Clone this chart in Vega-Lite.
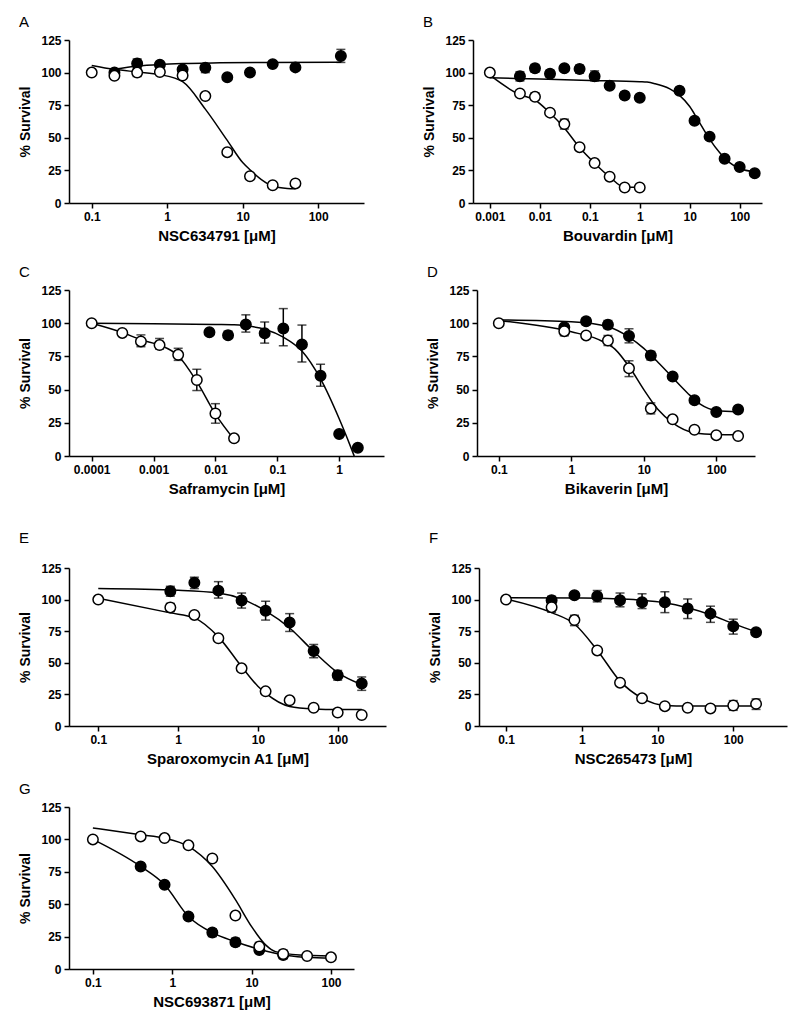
{
"$schema": "https://vega.github.io/schema/vega-lite/v6.json",
"padding": {"left": 18, "top": 15, "right": 5, "bottom": 5},
"background": "white",
"config": {
 "view": {"stroke": null},
 "axis": {"domainColor": "black", "domainWidth": 1.5, "tickColor": "black", "tickWidth": 1.5, "tickSize": 5, "labelFont": "Liberation Sans", "labelFontWeight": "bold", "labelFontSize": 12, "labelColor": "black", "titleFont": "Liberation Sans", "titleFontWeight": "bold", "titleColor": "black", "grid": false, "labelPadding": 3, "labelOverlap": false, "tickCount": 12},
 "axisX": {"titleFontSize": 15, "titlePadding": 6},
 "axisY": {"titleFontSize": 14, "titlePadding": 8},
 "title": {"anchor": "start", "frame": "bounds", "font": "Liberation Sans", "fontSize": 15, "fontWeight": "normal", "color": "black", "offset": 4}
},
"datasets": {
 "pts": [
  {"p":"A","s":"f","x":0.2,"y":100,"lo":98,"hi":103},
  {"p":"A","s":"f","x":0.4,"y":107,"lo":104,"hi":110.5},
  {"p":"A","s":"f","x":0.8,"y":106},
  {"p":"A","s":"f","x":1.6,"y":102.4},
  {"p":"A","s":"f","x":3.2,"y":103.7,"lo":100,"hi":106.5},
  {"p":"A","s":"f","x":6.25,"y":96.5},
  {"p":"A","s":"f","x":12.5,"y":100},
  {"p":"A","s":"f","x":25,"y":106.5},
  {"p":"A","s":"f","x":50,"y":104},
  {"p":"A","s":"f","x":200,"y":112.7,"lo":107.8,"hi":117.8},
  {"p":"A","s":"o","x":0.1,"y":100},
  {"p":"A","s":"o","x":0.2,"y":97.5},
  {"p":"A","s":"o","x":0.4,"y":100,"lo":97,"hi":103},
  {"p":"A","s":"o","x":0.8,"y":100.5},
  {"p":"A","s":"o","x":1.6,"y":97.8},
  {"p":"A","s":"o","x":3.2,"y":82},
  {"p":"A","s":"o","x":6.25,"y":39},
  {"p":"A","s":"o","x":12.5,"y":20.5},
  {"p":"A","s":"o","x":25,"y":13.6},
  {"p":"A","s":"o","x":50,"y":15},

  {"p":"B","s":"f","x":0.004,"y":97.2,"lo":93.6,"hi":100.7},
  {"p":"B","s":"f","x":0.008,"y":103.3,"lo":100.2,"hi":106.3},
  {"p":"B","s":"f","x":0.016,"y":99.2,"lo":96.6,"hi":101.8},
  {"p":"B","s":"f","x":0.031,"y":103.3},
  {"p":"B","s":"f","x":0.0625,"y":102.7,"lo":99.6,"hi":105.7},
  {"p":"B","s":"f","x":0.125,"y":97.2,"lo":93.6,"hi":101.3},
  {"p":"B","s":"f","x":0.25,"y":90},
  {"p":"B","s":"f","x":0.5,"y":82.5,"lo":80,"hi":85},
  {"p":"B","s":"f","x":1,"y":80.7},
  {"p":"B","s":"f","x":6.25,"y":86,"lo":83.5,"hi":88.6},
  {"p":"B","s":"f","x":12.5,"y":63},
  {"p":"B","s":"f","x":25,"y":50.9},
  {"p":"B","s":"f","x":50,"y":34},
  {"p":"B","s":"f","x":100,"y":27.6},
  {"p":"B","s":"f","x":200,"y":22.8},
  {"p":"B","s":"o","x":0.001,"y":100},
  {"p":"B","s":"o","x":0.004,"y":84},
  {"p":"B","s":"o","x":0.008,"y":81.4,"lo":79,"hi":84.5},
  {"p":"B","s":"o","x":0.016,"y":69.3},
  {"p":"B","s":"o","x":0.031,"y":60.5,"lo":56.7,"hi":64.3},
  {"p":"B","s":"o","x":0.0625,"y":42.8},
  {"p":"B","s":"o","x":0.125,"y":30.6},
  {"p":"B","s":"o","x":0.25,"y":20.2},
  {"p":"B","s":"o","x":0.5,"y":11.9},
  {"p":"B","s":"o","x":1,"y":11.9},

  {"p":"C","s":"f","x":0.008,"y":93.2},
  {"p":"C","s":"f","x":0.016,"y":91,"lo":89,"hi":94},
  {"p":"C","s":"f","x":0.031,"y":99,"lo":93.3,"hi":106.3},
  {"p":"C","s":"f","x":0.0625,"y":92.4,"lo":85,"hi":100.9},
  {"p":"C","s":"f","x":0.125,"y":96,"lo":83,"hi":111},
  {"p":"C","s":"f","x":0.25,"y":84,"lo":70.8,"hi":98.6},
  {"p":"C","s":"f","x":0.5,"y":60.4,"lo":52.5,"hi":69},
  {"p":"C","s":"f","x":1,"y":16.5},
  {"p":"C","s":"f","x":2,"y":6.2},
  {"p":"C","s":"o","x":0.0001,"y":100},
  {"p":"C","s":"o","x":0.0003125,"y":92.7},
  {"p":"C","s":"o","x":0.000625,"y":86.3,"lo":82.3,"hi":91.2},
  {"p":"C","s":"o","x":0.00125,"y":83.5,"lo":80.6,"hi":88.5},
  {"p":"C","s":"o","x":0.0025,"y":76.2,"lo":72,"hi":81.1},
  {"p":"C","s":"o","x":0.005,"y":57.2,"lo":49.3,"hi":65.3},
  {"p":"C","s":"o","x":0.01,"y":32,"lo":24.7,"hi":39.4},
  {"p":"C","s":"o","x":0.02,"y":13.3},

  {"p":"D","s":"f","x":0.8,"y":97},
  {"p":"D","s":"f","x":1.6,"y":101.4,"lo":98.9,"hi":104},
  {"p":"D","s":"f","x":3.2,"y":98.9,"lo":96,"hi":102},
  {"p":"D","s":"f","x":6.25,"y":90.3,"lo":85.2,"hi":95.8},
  {"p":"D","s":"f","x":12.5,"y":75.6,"lo":72.3,"hi":78.8},
  {"p":"D","s":"f","x":25,"y":59.8},
  {"p":"D","s":"f","x":50,"y":42},
  {"p":"D","s":"f","x":100,"y":33.2},
  {"p":"D","s":"f","x":200,"y":35},
  {"p":"D","s":"o","x":0.1,"y":100},
  {"p":"D","s":"o","x":0.8,"y":94,"lo":90.5,"hi":97},
  {"p":"D","s":"o","x":1.6,"y":90.8,"lo":88.8,"hi":92.8},
  {"p":"D","s":"o","x":3.2,"y":87,"lo":83.2,"hi":90.8},
  {"p":"D","s":"o","x":6.25,"y":66,"lo":59.8,"hi":71.7},
  {"p":"D","s":"o","x":12.5,"y":35.7,"lo":31.7,"hi":40},
  {"p":"D","s":"o","x":25,"y":27.6},
  {"p":"D","s":"o","x":50,"y":19.8},
  {"p":"D","s":"o","x":100,"y":15.7},
  {"p":"D","s":"o","x":200,"y":15},

  {"p":"E","s":"f","x":0.8,"y":106.6,"lo":102.7,"hi":110.5},
  {"p":"E","s":"f","x":1.6,"y":113.3,"lo":108.7,"hi":117.7},
  {"p":"E","s":"f","x":3.2,"y":107.1,"lo":101.2,"hi":114.2},
  {"p":"E","s":"f","x":6.25,"y":99.2,"lo":93.3,"hi":105.2},
  {"p":"E","s":"f","x":12.5,"y":91.1,"lo":83.8,"hi":98.7},
  {"p":"E","s":"f","x":25,"y":81.9,"lo":74.8,"hi":88.9},
  {"p":"E","s":"f","x":50,"y":59.4,"lo":54,"hi":64.5},
  {"p":"E","s":"f","x":100,"y":40.1,"lo":36.3,"hi":43.9},
  {"p":"E","s":"f","x":200,"y":33.6,"lo":28.2,"hi":38.8},
  {"p":"E","s":"o","x":0.1,"y":100},
  {"p":"E","s":"o","x":0.8,"y":93.8,"lo":90.5,"hi":97},
  {"p":"E","s":"o","x":1.6,"y":87.9},
  {"p":"E","s":"o","x":3.2,"y":69.4},
  {"p":"E","s":"o","x":6.25,"y":45.6},
  {"p":"E","s":"o","x":12.5,"y":27.4},
  {"p":"E","s":"o","x":25,"y":20.3},
  {"p":"E","s":"o","x":50,"y":14.4},
  {"p":"E","s":"o","x":100,"y":10.6},
  {"p":"E","s":"o","x":200,"y":8.7},

  {"p":"F","s":"f","x":0.4,"y":99.5,"lo":97,"hi":102.6},
  {"p":"F","s":"f","x":0.8,"y":103.4},
  {"p":"F","s":"f","x":1.6,"y":102.6,"lo":98.2,"hi":107.2},
  {"p":"F","s":"f","x":3.2,"y":99.5,"lo":94.3,"hi":105.2},
  {"p":"F","s":"f","x":6.25,"y":97.9,"lo":92.9,"hi":104.6},
  {"p":"F","s":"f","x":12.5,"y":97.9,"lo":89.7,"hi":106.2},
  {"p":"F","s":"f","x":25,"y":93,"lo":85,"hi":100.5},
  {"p":"F","s":"f","x":50,"y":88.9,"lo":82,"hi":94.8},
  {"p":"F","s":"f","x":100,"y":78.9,"lo":72.7,"hi":84.5},
  {"p":"F","s":"f","x":200,"y":74.2},
  {"p":"F","s":"o","x":0.1,"y":100},
  {"p":"F","s":"o","x":0.4,"y":94,"lo":90,"hi":97.5},
  {"p":"F","s":"o","x":0.8,"y":83.8,"lo":79.4,"hi":87.6},
  {"p":"F","s":"o","x":1.6,"y":59.8},
  {"p":"F","s":"o","x":3.2,"y":34.3},
  {"p":"F","s":"o","x":6.25,"y":21.9},
  {"p":"F","s":"o","x":12.5,"y":15.7},
  {"p":"F","s":"o","x":25,"y":14.4},
  {"p":"F","s":"o","x":50,"y":13.9},
  {"p":"F","s":"o","x":100,"y":16.2,"lo":12.4,"hi":20.1},
  {"p":"F","s":"o","x":200,"y":17.5,"lo":13.1,"hi":21.4},

  {"p":"G","s":"f","x":0.4,"y":79.1},
  {"p":"G","s":"f","x":0.8,"y":65},
  {"p":"G","s":"f","x":1.6,"y":40.5},
  {"p":"G","s":"f","x":3.2,"y":28.1,"lo":25,"hi":30.9},
  {"p":"G","s":"f","x":6.25,"y":20.6,"lo":17.8,"hi":23.7},
  {"p":"G","s":"f","x":12.5,"y":14.7,"lo":12.1,"hi":17.8},
  {"p":"G","s":"f","x":25,"y":10.8,"lo":8,"hi":13.5},
  {"p":"G","s":"o","x":0.1,"y":100},
  {"p":"G","s":"o","x":0.4,"y":102.3},
  {"p":"G","s":"o","x":0.8,"y":101},
  {"p":"G","s":"o","x":1.6,"y":95.4},
  {"p":"G","s":"o","x":3.2,"y":85.3},
  {"p":"G","s":"o","x":6.25,"y":41.2},
  {"p":"G","s":"o","x":12.5,"y":17.3,"lo":13.5,"hi":20.5},
  {"p":"G","s":"o","x":25,"y":11.6,"lo":8.5,"hi":14.5},
  {"p":"G","s":"o","x":50,"y":10},
  {"p":"G","s":"o","x":100,"y":9}
 ],
 "fit": [
  {"p":"A","s":"f","x":0.2,"y":102.5},{"p":"A","s":"f","x":0.4,"y":105},{"p":"A","s":"f","x":0.8,"y":106.3},{"p":"A","s":"f","x":1.6,"y":107},{"p":"A","s":"f","x":5,"y":107.5},{"p":"A","s":"f","x":20,"y":107.8},{"p":"A","s":"f","x":200,"y":108},
  {"p":"A","s":"o","x":0.1,"y":105.5},{"p":"A","s":"o","x":0.2,"y":102.5},{"p":"A","s":"o","x":0.4,"y":100.5},{"p":"A","s":"o","x":0.8,"y":98.5},{"p":"A","s":"o","x":1.6,"y":93},{"p":"A","s":"o","x":3.2,"y":72},{"p":"A","s":"o","x":6.25,"y":48},{"p":"A","s":"o","x":10,"y":31},{"p":"A","s":"o","x":12.5,"y":25.5},{"p":"A","s":"o","x":17.7,"y":18},{"p":"A","s":"o","x":25,"y":13},{"p":"A","s":"o","x":39,"y":11.2},{"p":"A","s":"o","x":50,"y":11},

  {"p":"B","s":"f","x":0.001,"y":96},{"p":"B","s":"f","x":0.01,"y":95},{"p":"B","s":"f","x":0.1,"y":94},{"p":"B","s":"f","x":1,"y":93},{"p":"B","s":"f","x":1.4,"y":92.7},{"p":"B","s":"f","x":2,"y":91.5},{"p":"B","s":"f","x":4,"y":87.5},{"p":"B","s":"f","x":6.25,"y":82.5},{"p":"B","s":"f","x":10,"y":74},{"p":"B","s":"f","x":15,"y":63},{"p":"B","s":"f","x":25,"y":49},{"p":"B","s":"f","x":40,"y":38.5},{"p":"B","s":"f","x":60,"y":31.5},{"p":"B","s":"f","x":100,"y":26.5},{"p":"B","s":"f","x":200,"y":24},
  {"p":"B","s":"o","x":0.001,"y":98},{"p":"B","s":"o","x":0.004,"y":83},{"p":"B","s":"o","x":0.008,"y":79},{"p":"B","s":"o","x":0.016,"y":69},{"p":"B","s":"o","x":0.031,"y":57.5},{"p":"B","s":"o","x":0.0625,"y":42.5},{"p":"B","s":"o","x":0.125,"y":30.5},{"p":"B","s":"o","x":0.25,"y":20},{"p":"B","s":"o","x":0.5,"y":12},{"p":"B","s":"o","x":1,"y":12},

  {"p":"C","s":"f","x":0.0001,"y":100},{"p":"C","s":"f","x":0.001,"y":99.6},{"p":"C","s":"f","x":0.01,"y":99},{"p":"C","s":"f","x":0.02,"y":98.8},{"p":"C","s":"f","x":0.031,"y":98},{"p":"C","s":"f","x":0.0625,"y":95.5},{"p":"C","s":"f","x":0.125,"y":89.5},{"p":"C","s":"f","x":0.25,"y":79},{"p":"C","s":"f","x":0.5,"y":58},{"p":"C","s":"f","x":1,"y":28},{"p":"C","s":"f","x":1.5,"y":8},{"p":"C","s":"f","x":1.75,"y":0},
  {"p":"C","s":"o","x":0.0001,"y":100},{"p":"C","s":"o","x":0.0003125,"y":93},{"p":"C","s":"o","x":0.000625,"y":87.5},{"p":"C","s":"o","x":0.00125,"y":83.5},{"p":"C","s":"o","x":0.0025,"y":75.5},{"p":"C","s":"o","x":0.005,"y":56},{"p":"C","s":"o","x":0.01,"y":31.5},{"p":"C","s":"o","x":0.02,"y":12.5},

  {"p":"D","s":"f","x":0.1,"y":102.5},{"p":"D","s":"f","x":1,"y":101},{"p":"D","s":"f","x":3.2,"y":97.3},{"p":"D","s":"f","x":6.25,"y":89.5},{"p":"D","s":"f","x":10,"y":81},{"p":"D","s":"f","x":15,"y":71.7},{"p":"D","s":"f","x":25,"y":59},{"p":"D","s":"f","x":40,"y":47.5},{"p":"D","s":"f","x":60,"y":39},{"p":"D","s":"f","x":100,"y":34.2},{"p":"D","s":"f","x":200,"y":33.2},
  {"p":"D","s":"o","x":0.1,"y":102},{"p":"D","s":"o","x":1,"y":93.5},{"p":"D","s":"o","x":2.3,"y":88},{"p":"D","s":"o","x":4,"y":80.5},{"p":"D","s":"o","x":6.6,"y":65.5},{"p":"D","s":"o","x":10,"y":50},{"p":"D","s":"o","x":15.7,"y":35},{"p":"D","s":"o","x":25,"y":25},{"p":"D","s":"o","x":50,"y":17.5},{"p":"D","s":"o","x":100,"y":16.2},{"p":"D","s":"o","x":200,"y":16},

  {"p":"E","s":"f","x":0.1,"y":108.7},{"p":"E","s":"f","x":1,"y":107.4},{"p":"E","s":"f","x":3.2,"y":105.2},{"p":"E","s":"f","x":6.25,"y":100.6},{"p":"E","s":"f","x":12.5,"y":91},{"p":"E","s":"f","x":25,"y":77.5},{"p":"E","s":"f","x":50,"y":59},{"p":"E","s":"f","x":100,"y":42.3},{"p":"E","s":"f","x":200,"y":32.8},
  {"p":"E","s":"o","x":0.1,"y":101},{"p":"E","s":"o","x":0.8,"y":89.5},{"p":"E","s":"o","x":1.6,"y":85.5},{"p":"E","s":"o","x":3.2,"y":70.5},{"p":"E","s":"o","x":6.25,"y":47},{"p":"E","s":"o","x":10,"y":31.5},{"p":"E","s":"o","x":12.5,"y":26},{"p":"E","s":"o","x":25,"y":15.5},{"p":"E","s":"o","x":50,"y":13.5},{"p":"E","s":"o","x":100,"y":13},{"p":"E","s":"o","x":200,"y":13},

  {"p":"F","s":"f","x":0.1,"y":101.5},{"p":"F","s":"f","x":1,"y":101.3},{"p":"F","s":"f","x":3.2,"y":100.5},{"p":"F","s":"f","x":6.25,"y":99.5},{"p":"F","s":"f","x":12.5,"y":97.5},{"p":"F","s":"f","x":25,"y":93.5},{"p":"F","s":"f","x":50,"y":88},{"p":"F","s":"f","x":100,"y":81},{"p":"F","s":"f","x":200,"y":74.5},
  {"p":"F","s":"o","x":0.1,"y":100.5},{"p":"F","s":"o","x":0.4,"y":89.7},{"p":"F","s":"o","x":0.8,"y":80.7},{"p":"F","s":"o","x":1.6,"y":60},{"p":"F","s":"o","x":3.2,"y":35.5},{"p":"F","s":"o","x":6.25,"y":22},{"p":"F","s":"o","x":12.5,"y":16.2},{"p":"F","s":"o","x":25,"y":15.8},{"p":"F","s":"o","x":200,"y":15.8},

  {"p":"G","s":"f","x":0.1,"y":100},{"p":"G","s":"f","x":0.4,"y":79.1},{"p":"G","s":"f","x":0.8,"y":65},{"p":"G","s":"f","x":1.6,"y":40.5},{"p":"G","s":"f","x":3.2,"y":28},{"p":"G","s":"f","x":6.25,"y":21},{"p":"G","s":"f","x":12.5,"y":15.2},{"p":"G","s":"f","x":25,"y":10.8},{"p":"G","s":"f","x":50,"y":9},{"p":"G","s":"f","x":100,"y":8.2},
  {"p":"G","s":"o","x":0.1,"y":108.8},{"p":"G","s":"o","x":0.4,"y":103.6},{"p":"G","s":"o","x":0.8,"y":101},{"p":"G","s":"o","x":1.6,"y":94.6},{"p":"G","s":"o","x":3.2,"y":79},{"p":"G","s":"o","x":6.25,"y":53.5},{"p":"G","s":"o","x":10,"y":32.7},{"p":"G","s":"o","x":15,"y":18.6},{"p":"G","s":"o","x":20,"y":13.4},{"p":"G","s":"o","x":40,"y":10.8},{"p":"G","s":"o","x":100,"y":10}
 ]
},
"vconcat": [
 {"vconcat": [
  {"hconcat": [
   {"title": {"text": "A"}, "width": 295, "height": 163,
    "encoding": {"x": {"field": "x", "type": "quantitative", "scale": {"type": "log", "domain": [0.05, 405], "nice": false}, "axis": {"values": [0.1, 1, 10, 100], "format": "~g", "title": "NSC634791 [μM]"}}},
    "layer": [
     {"data": {"name": "fit"}, "transform": [{"filter": "datum.p=='A'"}], "mark": {"type": "line", "color": "black", "strokeWidth": 1.5, "interpolate": "monotone"}, "encoding": {"y": {"field": "y", "type": "quantitative", "scale": {"domain": [0, 125], "nice": false}, "axis": {"values": [0, 25, 50, 75, 100, 125], "tickCount": 12}, "title": "% Survival"}, "detail": {"field": "s"}}},
     {"data": {"name": "pts"}, "transform": [{"filter": "datum.p=='A' && isValid(datum.lo)"}], "mark": {"type": "rule", "color": "black", "strokeWidth": 1.5}, "encoding": {"y": {"field": "lo", "type": "quantitative", "title": "% Survival"}, "y2": {"field": "hi"}}},
     {"data": {"name": "pts"}, "transform": [{"filter": "datum.p=='A' && isValid(datum.lo)"}], "mark": {"type": "tick", "orient": "horizontal", "color": "black", "thickness": 1.5, "size": 9}, "encoding": {"y": {"field": "lo", "type": "quantitative", "title": "% Survival"}}},
     {"data": {"name": "pts"}, "transform": [{"filter": "datum.p=='A' && isValid(datum.lo)"}], "mark": {"type": "tick", "orient": "horizontal", "color": "black", "thickness": 1.5, "size": 9}, "encoding": {"y": {"field": "hi", "type": "quantitative", "title": "% Survival"}}},
     {"data": {"name": "pts"}, "transform": [{"filter": "datum.p=='A'"}], "mark": {"type": "circle", "size": 110, "stroke": "black", "strokeWidth": 1.5, "opacity": 1}, "encoding": {"y": {"field": "y", "type": "quantitative", "title": "% Survival"}, "fill": {"field": "s", "type": "nominal", "scale": {"domain": ["f", "o"], "range": ["black", "white"]}, "legend": null}}}
    ]},
   {"title": {"text": "B"}, "width": 289, "height": 163,
    "encoding": {"x": {"field": "x", "type": "quantitative", "scale": {"type": "log", "domain": [0.00046, 280], "nice": false}, "axis": {"values": [0.001, 0.01, 0.1, 1, 10, 100], "format": "~g", "title": "Bouvardin [μM]"}}},
    "layer": [
     {"data": {"name": "fit"}, "transform": [{"filter": "datum.p=='B'"}], "mark": {"type": "line", "color": "black", "strokeWidth": 1.5, "interpolate": "monotone"}, "encoding": {"y": {"field": "y", "type": "quantitative", "scale": {"domain": [0, 125], "nice": false}, "axis": {"values": [0, 25, 50, 75, 100, 125], "tickCount": 12}, "title": "% Survival"}, "detail": {"field": "s"}}},
     {"data": {"name": "pts"}, "transform": [{"filter": "datum.p=='B' && isValid(datum.lo)"}], "mark": {"type": "rule", "color": "black", "strokeWidth": 1.5}, "encoding": {"y": {"field": "lo", "type": "quantitative", "title": "% Survival"}, "y2": {"field": "hi"}}},
     {"data": {"name": "pts"}, "transform": [{"filter": "datum.p=='B' && isValid(datum.lo)"}], "mark": {"type": "tick", "orient": "horizontal", "color": "black", "thickness": 1.5, "size": 9}, "encoding": {"y": {"field": "lo", "type": "quantitative", "title": "% Survival"}}},
     {"data": {"name": "pts"}, "transform": [{"filter": "datum.p=='B' && isValid(datum.lo)"}], "mark": {"type": "tick", "orient": "horizontal", "color": "black", "thickness": 1.5, "size": 9}, "encoding": {"y": {"field": "hi", "type": "quantitative", "title": "% Survival"}}},
     {"data": {"name": "pts"}, "transform": [{"filter": "datum.p=='B'"}], "mark": {"type": "circle", "size": 110, "stroke": "black", "strokeWidth": 1.5, "opacity": 1}, "encoding": {"y": {"field": "y", "type": "quantitative", "title": "% Survival"}, "fill": {"field": "s", "type": "nominal", "scale": {"domain": ["f", "o"], "range": ["black", "white"]}, "legend": null}}}
    ]}
  ], "spacing": 58},
  {"hconcat": [
   {"title": {"text": "C"}, "width": 315, "height": 166,
    "encoding": {"x": {"field": "x", "type": "quantitative", "scale": {"type": "log", "domain": [0.000043, 5.3], "nice": false}, "axis": {"values": [0.0001, 0.001, 0.01, 0.1, 1], "format": "~g", "title": "Saframycin [μM]"}}},
    "layer": [
     {"data": {"name": "fit"}, "transform": [{"filter": "datum.p=='C'"}], "mark": {"type": "line", "color": "black", "strokeWidth": 1.5, "interpolate": "monotone"}, "encoding": {"y": {"field": "y", "type": "quantitative", "scale": {"domain": [0, 125], "nice": false}, "axis": {"values": [0, 25, 50, 75, 100, 125], "tickCount": 12}, "title": "% Survival"}, "detail": {"field": "s"}}},
     {"data": {"name": "pts"}, "transform": [{"filter": "datum.p=='C' && isValid(datum.lo)"}], "mark": {"type": "rule", "color": "black", "strokeWidth": 1.5}, "encoding": {"y": {"field": "lo", "type": "quantitative", "title": "% Survival"}, "y2": {"field": "hi"}}},
     {"data": {"name": "pts"}, "transform": [{"filter": "datum.p=='C' && isValid(datum.lo)"}], "mark": {"type": "tick", "orient": "horizontal", "color": "black", "thickness": 1.5, "size": 9}, "encoding": {"y": {"field": "lo", "type": "quantitative", "title": "% Survival"}}},
     {"data": {"name": "pts"}, "transform": [{"filter": "datum.p=='C' && isValid(datum.lo)"}], "mark": {"type": "tick", "orient": "horizontal", "color": "black", "thickness": 1.5, "size": 9}, "encoding": {"y": {"field": "hi", "type": "quantitative", "title": "% Survival"}}},
     {"data": {"name": "pts"}, "transform": [{"filter": "datum.p=='C'"}], "mark": {"type": "circle", "size": 110, "stroke": "black", "strokeWidth": 1.5, "opacity": 1}, "encoding": {"y": {"field": "y", "type": "quantitative", "title": "% Survival"}, "fill": {"field": "s", "type": "nominal", "scale": {"domain": ["f", "o"], "range": ["black", "white"]}, "legend": null}}}
    ]},
   {"title": {"text": "D"}, "width": 278, "height": 166,
    "encoding": {"x": {"field": "x", "type": "quantitative", "scale": {"type": "log", "domain": [0.05, 342], "nice": false}, "axis": {"values": [0.1, 1, 10, 100], "format": "~g", "title": "Bikaverin [μM]"}}},
    "layer": [
     {"data": {"name": "fit"}, "transform": [{"filter": "datum.p=='D'"}], "mark": {"type": "line", "color": "black", "strokeWidth": 1.5, "interpolate": "monotone"}, "encoding": {"y": {"field": "y", "type": "quantitative", "scale": {"domain": [0, 125], "nice": false}, "axis": {"values": [0, 25, 50, 75, 100, 125], "tickCount": 12}, "title": "% Survival"}, "detail": {"field": "s"}}},
     {"data": {"name": "pts"}, "transform": [{"filter": "datum.p=='D' && isValid(datum.lo)"}], "mark": {"type": "rule", "color": "black", "strokeWidth": 1.5}, "encoding": {"y": {"field": "lo", "type": "quantitative", "title": "% Survival"}, "y2": {"field": "hi"}}},
     {"data": {"name": "pts"}, "transform": [{"filter": "datum.p=='D' && isValid(datum.lo)"}], "mark": {"type": "tick", "orient": "horizontal", "color": "black", "thickness": 1.5, "size": 9}, "encoding": {"y": {"field": "lo", "type": "quantitative", "title": "% Survival"}}},
     {"data": {"name": "pts"}, "transform": [{"filter": "datum.p=='D' && isValid(datum.lo)"}], "mark": {"type": "tick", "orient": "horizontal", "color": "black", "thickness": 1.5, "size": 9}, "encoding": {"y": {"field": "hi", "type": "quantitative", "title": "% Survival"}}},
     {"data": {"name": "pts"}, "transform": [{"filter": "datum.p=='D'"}], "mark": {"type": "circle", "size": 110, "stroke": "black", "strokeWidth": 1.5, "opacity": 1}, "encoding": {"y": {"field": "y", "type": "quantitative", "title": "% Survival"}, "fill": {"field": "s", "type": "nominal", "scale": {"domain": ["f", "o"], "range": ["black", "white"]}, "legend": null}}}
    ]}
  ], "spacing": 42}
 ], "spacing": 22},
 {"vconcat": [
  {"hconcat": [
   {"title": {"text": "E", "offset": 16}, "width": 317, "height": 158,
    "encoding": {"x": {"field": "x", "type": "quantitative", "scale": {"type": "log", "domain": [0.043, 403], "nice": false}, "axis": {"values": [0.1, 1, 10, 100], "format": "~g", "title": "Sparoxomycin A1 [μM]"}}},
    "layer": [
     {"data": {"name": "fit"}, "transform": [{"filter": "datum.p=='E'"}], "mark": {"type": "line", "color": "black", "strokeWidth": 1.5, "interpolate": "monotone"}, "encoding": {"y": {"field": "y", "type": "quantitative", "scale": {"domain": [0, 125], "nice": false}, "axis": {"values": [0, 25, 50, 75, 100, 125], "tickCount": 12}, "title": "% Survival"}, "detail": {"field": "s"}}},
     {"data": {"name": "pts"}, "transform": [{"filter": "datum.p=='E' && isValid(datum.lo)"}], "mark": {"type": "rule", "color": "black", "strokeWidth": 1.5}, "encoding": {"y": {"field": "lo", "type": "quantitative", "title": "% Survival"}, "y2": {"field": "hi"}}},
     {"data": {"name": "pts"}, "transform": [{"filter": "datum.p=='E' && isValid(datum.lo)"}], "mark": {"type": "tick", "orient": "horizontal", "color": "black", "thickness": 1.5, "size": 9}, "encoding": {"y": {"field": "lo", "type": "quantitative", "title": "% Survival"}}},
     {"data": {"name": "pts"}, "transform": [{"filter": "datum.p=='E' && isValid(datum.lo)"}], "mark": {"type": "tick", "orient": "horizontal", "color": "black", "thickness": 1.5, "size": 9}, "encoding": {"y": {"field": "hi", "type": "quantitative", "title": "% Survival"}}},
     {"data": {"name": "pts"}, "transform": [{"filter": "datum.p=='E'"}], "mark": {"type": "circle", "size": 110, "stroke": "black", "strokeWidth": 1.5, "opacity": 1}, "encoding": {"y": {"field": "y", "type": "quantitative", "title": "% Survival"}, "fill": {"field": "s", "type": "nominal", "scale": {"domain": ["f", "o"], "range": ["black", "white"]}, "legend": null}}}
    ]},
   {"title": {"text": "F", "offset": 16}, "width": 308, "height": 158,
    "encoding": {"x": {"field": "x", "type": "quantitative", "scale": {"type": "log", "domain": [0.044, 512], "nice": false}, "axis": {"values": [0.1, 1, 10, 100], "format": "~g", "title": "NSC265473 [μM]"}}},
    "layer": [
     {"data": {"name": "fit"}, "transform": [{"filter": "datum.p=='F'"}], "mark": {"type": "line", "color": "black", "strokeWidth": 1.5, "interpolate": "monotone"}, "encoding": {"y": {"field": "y", "type": "quantitative", "scale": {"domain": [0, 125], "nice": false}, "axis": {"values": [0, 25, 50, 75, 100, 125], "tickCount": 12}, "title": "% Survival"}, "detail": {"field": "s"}}},
     {"data": {"name": "pts"}, "transform": [{"filter": "datum.p=='F' && isValid(datum.lo)"}], "mark": {"type": "rule", "color": "black", "strokeWidth": 1.5}, "encoding": {"y": {"field": "lo", "type": "quantitative", "title": "% Survival"}, "y2": {"field": "hi"}}},
     {"data": {"name": "pts"}, "transform": [{"filter": "datum.p=='F' && isValid(datum.lo)"}], "mark": {"type": "tick", "orient": "horizontal", "color": "black", "thickness": 1.5, "size": 9}, "encoding": {"y": {"field": "lo", "type": "quantitative", "title": "% Survival"}}},
     {"data": {"name": "pts"}, "transform": [{"filter": "datum.p=='F' && isValid(datum.lo)"}], "mark": {"type": "tick", "orient": "horizontal", "color": "black", "thickness": 1.5, "size": 9}, "encoding": {"y": {"field": "hi", "type": "quantitative", "title": "% Survival"}}},
     {"data": {"name": "pts"}, "transform": [{"filter": "datum.p=='F'"}], "mark": {"type": "circle", "size": 110, "stroke": "black", "strokeWidth": 1.5, "opacity": 1}, "encoding": {"y": {"field": "y", "type": "quantitative", "title": "% Survival"}, "fill": {"field": "s", "type": "nominal", "scale": {"domain": ["f", "o"], "range": ["black", "white"]}, "legend": null}}}
    ]}
  ], "spacing": 42},
  {"title": {"text": "G"}, "width": 285, "height": 162,
    "encoding": {"x": {"field": "x", "type": "quantitative", "scale": {"type": "log", "domain": [0.05, 195], "nice": false}, "axis": {"values": [0.1, 1, 10, 100], "format": "~g", "title": "NSC693871 [μM]"}}},
    "layer": [
     {"data": {"name": "fit"}, "transform": [{"filter": "datum.p=='G'"}], "mark": {"type": "line", "color": "black", "strokeWidth": 1.5, "interpolate": "monotone"}, "encoding": {"y": {"field": "y", "type": "quantitative", "scale": {"domain": [0, 125], "nice": false}, "axis": {"values": [0, 25, 50, 75, 100, 125], "tickCount": 12}, "title": "% Survival"}, "detail": {"field": "s"}}},
     {"data": {"name": "pts"}, "transform": [{"filter": "datum.p=='G' && isValid(datum.lo)"}], "mark": {"type": "rule", "color": "black", "strokeWidth": 1.5}, "encoding": {"y": {"field": "lo", "type": "quantitative", "title": "% Survival"}, "y2": {"field": "hi"}}},
     {"data": {"name": "pts"}, "transform": [{"filter": "datum.p=='G' && isValid(datum.lo)"}], "mark": {"type": "tick", "orient": "horizontal", "color": "black", "thickness": 1.5, "size": 9}, "encoding": {"y": {"field": "lo", "type": "quantitative", "title": "% Survival"}}},
     {"data": {"name": "pts"}, "transform": [{"filter": "datum.p=='G' && isValid(datum.lo)"}], "mark": {"type": "tick", "orient": "horizontal", "color": "black", "thickness": 1.5, "size": 9}, "encoding": {"y": {"field": "hi", "type": "quantitative", "title": "% Survival"}}},
     {"data": {"name": "pts"}, "transform": [{"filter": "datum.p=='G'"}], "mark": {"type": "circle", "size": 110, "stroke": "black", "strokeWidth": 1.5, "opacity": 1}, "encoding": {"y": {"field": "y", "type": "quantitative", "title": "% Survival"}, "fill": {"field": "s", "type": "nominal", "scale": {"domain": ["f", "o"], "range": ["black", "white"]}, "legend": null}}}
    ]}
 ], "spacing": 16}
], "spacing": 35
}
